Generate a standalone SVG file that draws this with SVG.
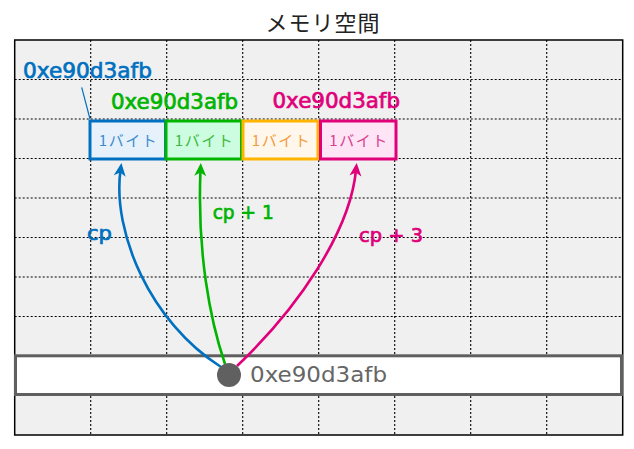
<svg xmlns="http://www.w3.org/2000/svg" width="634" height="449" viewBox="0 0 634 449">
<style>
.grid{stroke:#000;stroke-width:1.1;stroke-dasharray:2,2;fill:none}
.lbl{font-family:"DejaVu Sans","Liberation Sans",sans-serif;font-size:21px;stroke-width:0.7}
.sub{font-family:"DejaVu Sans","Liberation Sans",sans-serif;font-size:20px;stroke-width:0.7}
.byte{font-family:"Noto Sans CJK JP","Noto Sans",sans-serif;font-size:15px;letter-spacing:1.5px;text-anchor:middle}
.box{stroke-width:3}
.conn{fill:none;stroke-width:2.6}
</style>
<defs>
<marker id="ab" markerUnits="userSpaceOnUse" viewBox="-8 -7 16 14" markerWidth="16" markerHeight="14" refX="0" refY="0" orient="auto"><path d="M7,0 L-6,-6 L-2.5,0 L-6,6 Z" fill="#0070c0"/></marker>
<marker id="ag" markerUnits="userSpaceOnUse" viewBox="-8 -7 16 14" markerWidth="16" markerHeight="14" refX="0" refY="0" orient="auto"><path d="M7,0 L-6,-6 L-2.5,0 L-6,6 Z" fill="#00b400"/></marker>
<marker id="ap" markerUnits="userSpaceOnUse" viewBox="-8 -7 16 14" markerWidth="16" markerHeight="14" refX="0" refY="0" orient="auto"><path d="M7,0 L-6,-6 L-2.5,0 L-6,6 Z" fill="#e0007a"/></marker>
</defs>
<g id="title"><text x="323" y="30.5" font-family="Noto Sans CJK JP,sans-serif" font-size="22" letter-spacing="1" text-anchor="middle" fill="#222">メモリ空間</text></g>
<g id="memory">
<rect x="14.7" y="40" width="608" height="395" fill="#f0f0f0" stroke="none"/>
<path class="grid" d="M90.7,40V435M166.7,40V435M242.7,40V435M318.7,40V435M394.7,40V435M470.7,40V435M546.7,40V435M14.7,79.5H622.7M14.7,119H622.7M14.7,158.5H622.7M14.7,198H622.7M14.7,237.5H622.7M14.7,277H622.7M14.7,316.5H622.7M14.7,356H622.7M14.7,395.5H622.7"/>
<rect x="14.7" y="40" width="608" height="395" fill="none" stroke="#000" stroke-width="1.5"/>
</g>
<g id="byte0"><rect class="box" x="90" y="121" width="75.5" height="38" fill="#e6f1fc" stroke="#0070c0"/><text class="byte" x="128.5" y="146" fill="#3f8ccc">1バイト</text></g>
<g id="byte1"><rect class="box" x="166" y="121" width="75.5" height="38" fill="#ccfde0" stroke="#00b400"/><text class="byte" x="204.5" y="146" fill="#3fb83f">1バイト</text></g>
<g id="byte2"><rect class="box" x="243" y="121" width="75" height="38" fill="#fff7ec" stroke="#ffb400"/><text class="byte" x="281.5" y="146" fill="#f39c3c">1バイト</text></g>
<g id="byte3"><rect class="box" x="320.5" y="121" width="75.5" height="38" fill="#ffe4f6" stroke="#e0007a"/><text class="byte" x="359" y="146" fill="#d8408e">1バイト</text></g>
<g id="labels">
<text class="lbl" x="23" y="78" fill="#0070c0" stroke="#0070c0" textLength="129" lengthAdjust="spacingAndGlyphs">0xe90d3afb</text>
<line x1="81.7" y1="87.3" x2="90" y2="119" stroke="#0070c0" stroke-width="1.2"/>
<text class="lbl" x="111" y="108.5" fill="#00b400" stroke="#00b400" textLength="127" lengthAdjust="spacingAndGlyphs">0xe90d3afb</text>
<text class="lbl" x="272.5" y="108" fill="#e0007a" stroke="#e0007a" textLength="127.5" lengthAdjust="spacingAndGlyphs">0xe90d3afb</text>
</g>
<g id="pointer">
<rect x="15.5" y="355.8" width="606" height="38.7" fill="#fff" stroke="#5f5f5f" stroke-width="3"/>
<text x="250" y="382" font-family="DejaVu Sans,sans-serif" font-size="22" fill="#666" textLength="137" lengthAdjust="spacingAndGlyphs">0xe90d3afb</text>
</g>
<g id="connectors">
<path class="conn" stroke="#0070c0" marker-end="url(#ab)" d="M221,367 C150,322 112,232 120.5,170"/>
<path class="conn" stroke="#00b400" marker-end="url(#ag)" d="M225,364 C210,320 197,252 200.5,170"/>
<path class="conn" stroke="#e0007a" marker-end="url(#ap)" d="M237,366 C298,308 350,232 356,170"/>
<text class="sub" x="87" y="240" fill="#0070c0" stroke="#0070c0" textLength="25" lengthAdjust="spacingAndGlyphs">cp</text>
<text class="sub" x="212.7" y="219.3" fill="#00b400" stroke="#00b400" textLength="61" lengthAdjust="spacingAndGlyphs">cp + 1</text>
<text class="sub" x="359" y="241.7" fill="#e0007a" stroke="#e0007a" textLength="64" lengthAdjust="spacingAndGlyphs">cp + 3</text>
</g>
<g id="dot"><circle cx="229" cy="375" r="12" fill="#606060"/></g>
</svg>
